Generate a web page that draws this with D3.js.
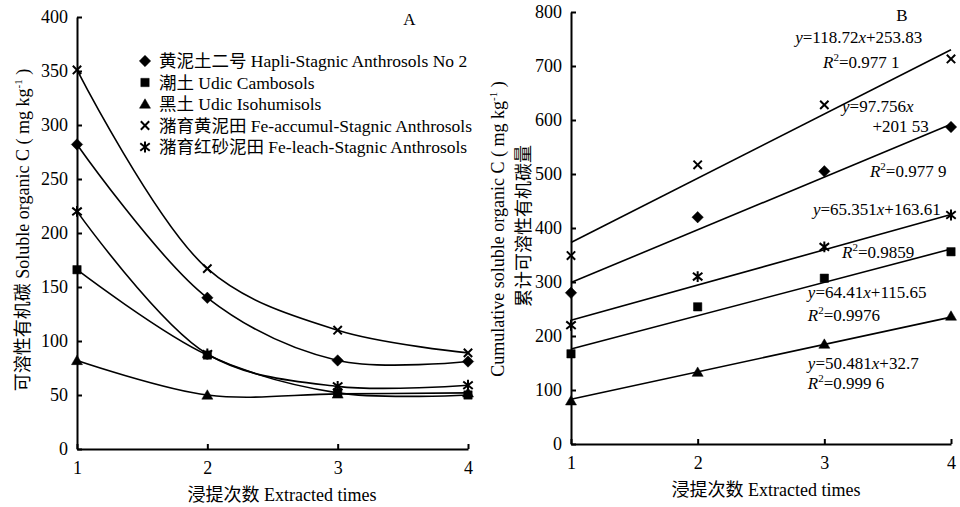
<!DOCTYPE html>
<html lang="zh">
<head>
<meta charset="utf-8">
<title>Soluble organic C by extraction</title>
<script src="https://d3js.org/d3.v7.min.js"></script>
<style>
  body { margin: 0; background: #fff; }
  svg text { font-family: "Liberation Serif", "Noto Sans CJK SC", serif; fill: #000; }
  .axis path, .axis line { stroke: #000; stroke-width: 2; }
  .axis text { font-size: 18px; }
</style>
</head>
<body>
<script>
// extraction number
var times = [1, 2, 3, 4];
var ticksA = [0, 50, 100, 150, 200, 250, 300, 350, 400];
var ticksB = [0, 100, 200, 300, 400, 500, 600, 700, 800];

// legend names, same order as the series below
var soilNames = [
  "黄泥土二号 Hapli-Stagnic Anthrosols No 2",
  "潮土 Udic Cambosols",
  "黑土 Udic Isohumisols",
  "潴育黄泥田 Fe-accumul-Stagnic Anthrosols",
  "潴育红砂泥田 Fe-leach-Stagnic Anthrosols"
];

// A: soluble organic C per extraction (mg/kg)
var hapli  = [282, 140, 82, 81];
var cambo  = [166, 87, 52, 50];
var isohum = [82, 50, 51, 52];
var accum  = [351, 167, 110, 89];
var leach  = [220, 88, 58, 59];

// B: cumulative soluble organic C (mg/kg)
var cumHapli  = [280, 420, 505, 587];
var cumCambo  = [167, 254, 307, 356];
var cumIso    = [80, 133, 185, 237];
var cumAccum  = [349, 517, 628, 713];
var cumLeach  = [220, 310, 365, 424];

// fitted lines, value at x=1 and x=4
var fitAt1 = [299, 176, 83, 373, 229];
var fitAt4 = [592, 361, 235, 730, 425];

// equation labels on B
var eqText = ["y=118.72x+253.83", "R^2=0.977 1", "y=97.756x", "+201 53", "R^2=0.977 9",
              "y=65.351x+163.61", "R^2=0.9859", "y=64.41x+115.65", "R^2=0.9976",
              "y=50.481x+32.7", "R^2=0.999 6"];

var seriesA = [hapli, cambo, isohum, accum, leach];
var seriesB = [cumHapli, cumCambo, cumIso, cumAccum, cumLeach];

var w = 960, h = 507;
var svg = d3.select("body").append("svg")
    .attr("width", w)
    .attr("height", h);

var xA = d3.scaleLinear().domain([1, 4]).range([77, 468]);
var yA = d3.scaleLinear().domain([0, 400]).range([449, 17]);
var xB = d3.scaleLinear().domain([1, 4]).range([571, 951]);
var yB = d3.scaleLinear().domain([0, 800]).range([444, 12]);

// marker shapes
var diamond = { draw: function(c, s) { var r = Math.sqrt(s) / 2;
  c.moveTo(0, -r); c.lineTo(r, 0); c.lineTo(0, r); c.lineTo(-r, 0); c.closePath(); } };
var square = { draw: function(c, s) { var r = Math.sqrt(s) / 2;
  c.rect(-r, -r, 2 * r, 2 * r); } };
var triangle = { draw: function(c, s) { var r = Math.sqrt(s) / 2;
  c.moveTo(0, -r); c.lineTo(r * 1.05, r * 0.8); c.lineTo(-r * 1.05, r * 0.8); c.closePath(); } };
var cross = { draw: function(c, s) { var r = Math.sqrt(s) / 2;
  c.moveTo(-r, -r); c.lineTo(r, r); c.moveTo(-r, r); c.lineTo(r, -r); } };
var star = { draw: function(c, s) { var r = Math.sqrt(s) / 2;
  c.moveTo(-r, -r * 0.8); c.lineTo(r, r * 0.8); c.moveTo(-r, r * 0.8); c.lineTo(r, -r * 0.8);
  c.moveTo(0, -r * 1.15); c.lineTo(0, r * 1.15); } };
var shapes = [diamond, square, triangle, cross, star];
var sizes = [130, 70, 110, 70, 90];
var filled = [true, true, true, false, false];

function drawMark(g, i, x, y) {
  g.append("path")
    .attr("d", d3.symbol().type(shapes[i]).size(sizes[i])())
    .attr("transform", "translate(" + x + "," + y + ")")
    .attr("fill", filled[i] ? "#000" : "none")
    .attr("stroke", "#000")
    .attr("stroke-width", filled[i] ? 0.5 : 2);
}

function axes(x, y, ticks) {
  svg.append("g").attr("class", "axis")
    .attr("transform", "translate(0," + y(0) + ")")
    .call(d3.axisBottom(x).tickValues(times).tickFormat(d3.format("d"))
      .tickSizeInner(-5).tickSizeOuter(0).tickPadding(12));
  svg.append("g").attr("class", "axis")
    .attr("transform", "translate(" + x(1) + ",0)")
    .call(d3.axisLeft(y).tickValues(ticks).tickFormat(d3.format("d"))
      .tickSizeInner(-5).tickSizeOuter(0).tickPadding(9));
}
axes(xA, yA, ticksA);
axes(xB, yB, ticksB);

// ---- chart A
var smooth = d3.line()
    .x(function(d, i) { return xA(times[i]); })
    .y(function(d) { return yA(d); })
    .curve(d3.curveCatmullRom.alpha(0.5));

var gA = svg.append("g");
seriesA.forEach(function(s) {
  gA.append("path").datum(s)
    .attr("d", smooth)
    .attr("fill", "none")
    .attr("stroke", "#000")
    .attr("stroke-width", 1.6);
});
seriesA.forEach(function(s, k) {
  s.forEach(function(v, i) { drawMark(gA, k, xA(times[i]), yA(v)); });
});

// legend
var leg = svg.append("g");
soilNames.forEach(function(name, k) {
  var cy = 61 + k * 21.5;
  drawMark(leg, k, 145, cy);
  leg.append("text").attr("x", 159).attr("y", cy + 6)
    .style("font-size", "17.5px").text(name);
});

svg.append("text").attr("x", xA(3.55)).attr("y", 25)
  .attr("text-anchor", "middle").style("font-size", "17px").text("A");

// ---- chart B
var gB = svg.append("g");
fitAt1.forEach(function(v, k) {
  gB.append("line")
    .attr("x1", xB(1)).attr("y1", yB(v))
    .attr("x2", xB(4)).attr("y2", yB(fitAt4[k]))
    .attr("stroke", "#000").attr("stroke-width", 1.6);
});
seriesB.forEach(function(s, k) {
  s.forEach(function(v, i) { drawMark(gB, k, xB(times[i]), yB(v)); });
});

// equation label anchors in data units of chart B
var eqX = [2.77, 2.99, 3.14, 3.38, 3.36, 2.91, 3.14, 2.87, 2.87, 2.87, 2.87];
var eqY = [742, 697, 614, 577, 495, 425, 345, 271, 227, 139, 102];
eqText.forEach(function(t, k) {
  var tx = svg.append("text").attr("x", xB(eqX[k])).attr("y", yB(eqY[k]))
    .style("font-size", "17px");
  var parts = t.split(/(\^2|[xyR])/).filter(function(p) { return p.length; });
  var sup = false;
  parts.forEach(function(p) {
    if (p === "^2") {
      tx.append("tspan").attr("dy", -7).style("font-size", "11px").text("2");
      sup = true;
    } else {
      var sp = tx.append("tspan").text(p);
      if (sup) { sp.attr("dy", 7); sup = false; }
      if (p === "x" || p === "y" || p === "R") sp.style("font-style", "italic");
    }
  });
});

svg.append("text").attr("x", 902).attr("y", 21)
  .attr("text-anchor", "middle").style("font-size", "17px").text("B");

// ---- titles
function unitTitle(sel, lead) {
  sel.append("tspan").text(lead + " ( mg kg");
  sel.append("tspan").attr("dy", -7).style("font-size", "11px").text("-1");
  sel.append("tspan").attr("dy", 7).text(" )");
}

var tA = svg.append("text")
  .attr("transform", "translate(29,230) rotate(-90)")
  .attr("text-anchor", "middle").style("font-size", "18px");
unitTitle(tA, "可溶性有机碳 Soluble organic C");

var tB = svg.append("text")
  .attr("transform", "translate(504,229) rotate(-90)")
  .attr("text-anchor", "middle").style("font-size", "18px");
unitTitle(tB, "Cumulative soluble organic C");

svg.append("text")
  .attr("transform", "translate(530,226) rotate(-90)")
  .attr("text-anchor", "middle").style("font-size", "18px")
  .text("累计可溶性有机碳量");

svg.append("text").attr("x", 282).attr("y", 501)
  .attr("text-anchor", "middle").style("font-size", "18px").text("浸提次数 Extracted times");
svg.append("text").attr("x", 766).attr("y", 496)
  .attr("text-anchor", "middle").style("font-size", "18px").text("浸提次数 Extracted times");
</script>
</body>
</html>
